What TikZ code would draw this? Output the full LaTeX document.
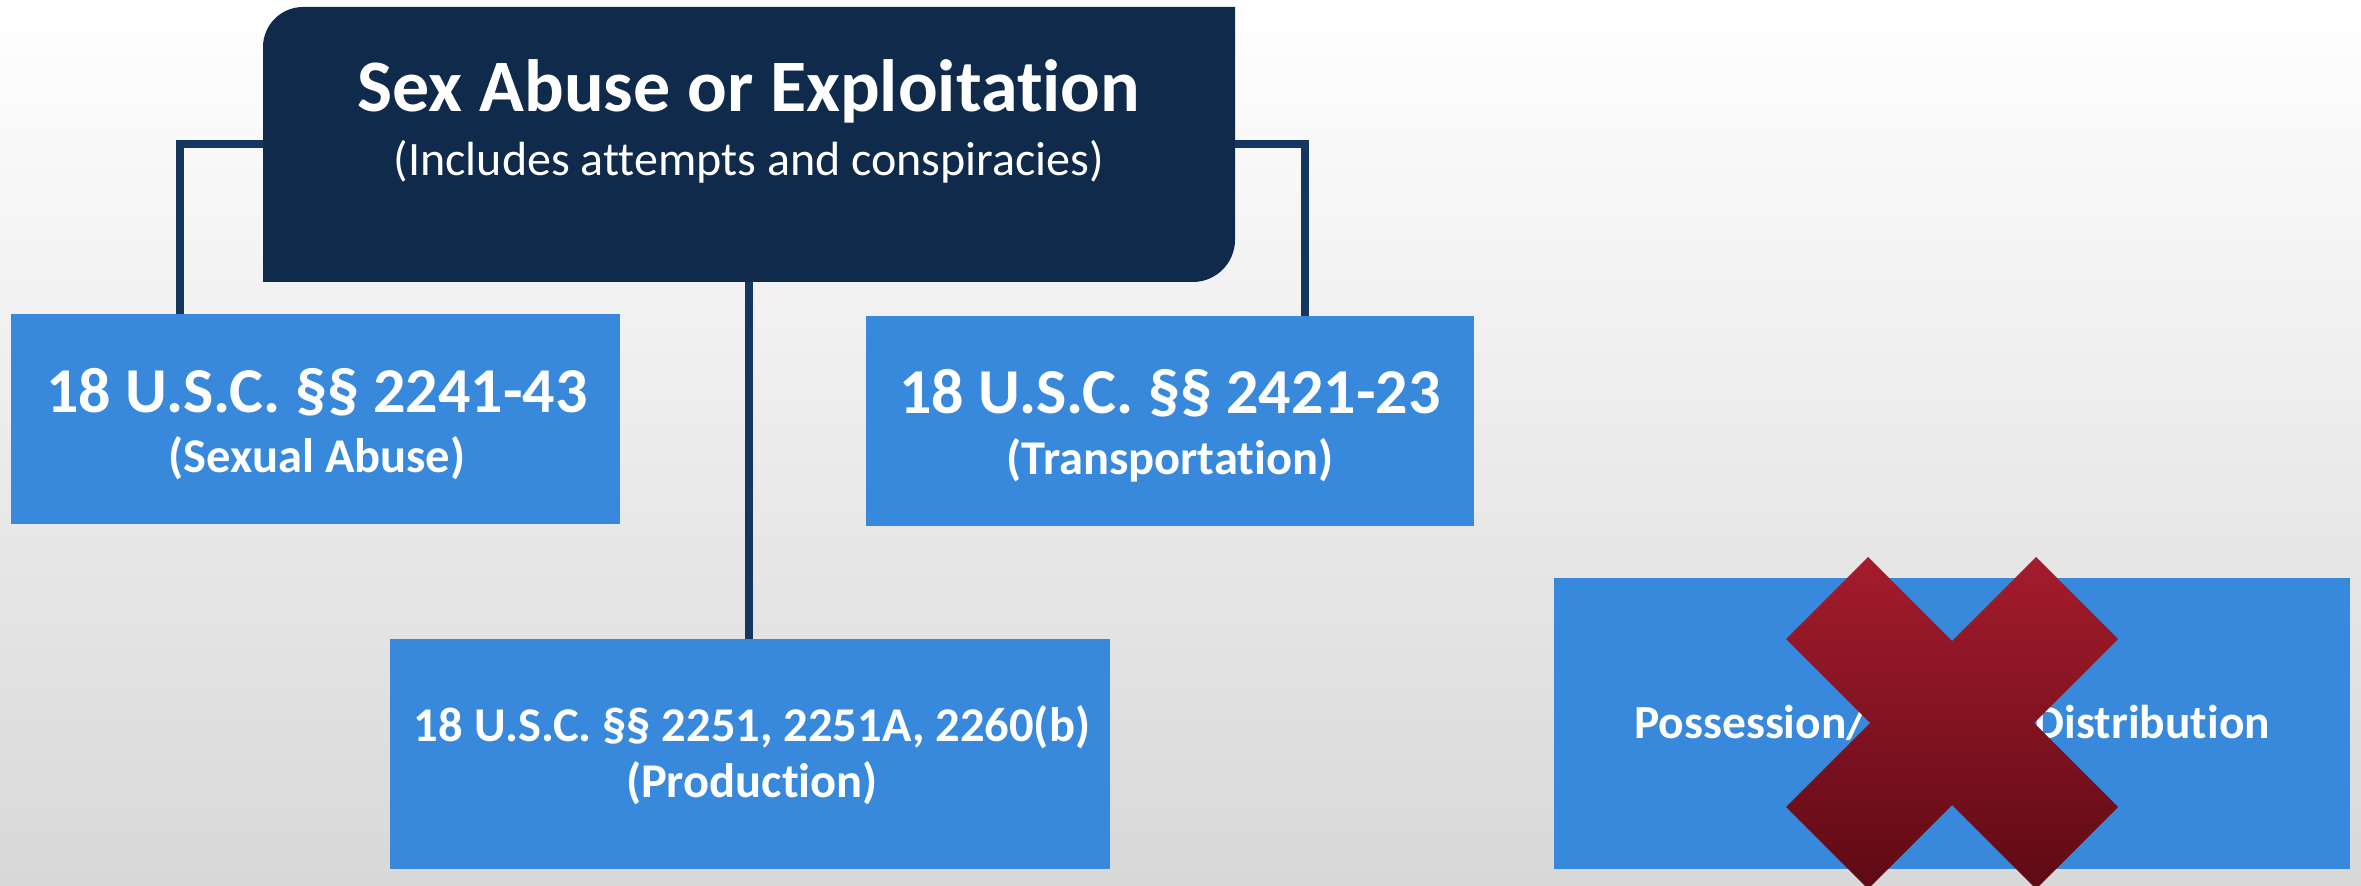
\documentclass[tikz,border=0pt]{standalone}
\usepackage{fontspec}
\setmainfont[Ligatures={NoCommon}]{Carlito}
\usetikzlibrary{calc}
\definecolor{navy}{HTML}{0F2A4A}
\definecolor{connc}{HTML}{15375F}
\definecolor{boxblue}{HTML}{3889DC}
\definecolor{xtop}{HTML}{A51C2D}
\definecolor{xbot}{HTML}{5E0A14}
\definecolor{bgbot}{HTML}{D8D8D8}
\begin{document}
\begin{tikzpicture}[x=1pt,y=1pt,
  boxshape/.style={fill=boxblue, draw=none, inner sep=0pt, outer sep=0pt},
  bigtxt/.style={font=\fontsize{64}{70}\selectfont\bfseries, text=white, anchor=base, inner sep=0pt},
  smalltxt/.style={font=\fontsize{48.5}{54}\selectfont\bfseries, text=white, anchor=base, inner sep=0pt},
  conn/.style={draw=connc, line width=8pt}]
\useasboundingbox (0,0) rectangle (2361,886);
\clip (0,0) rectangle (2361,886);
\shade[top color=white, bottom color=bgbot] (0,0) rectangle (2361,886);

% boxes
\node[draw=none, inner sep=0pt, outer sep=0pt, minimum width=972pt, minimum height=275pt] (top) at (749,741.5) {};
\node[boxshape, minimum width=609pt, minimum height=210pt] (lb) at (315.5,467) {};
\node[boxshape, minimum width=608pt, minimum height=210pt] (mr) at (1170,465) {};
\node[boxshape, minimum width=720pt, minimum height=230pt] (prod) at (750,132) {};
\node[boxshape, minimum width=796pt, minimum height=291pt] (poss) at (1952,162.5) {};

% connectors
\draw[conn] (top.west) -| ([xshift=169pt]lb.north west);
\draw[conn] (top.east) -| ([xshift=-169pt]mr.north east);
\draw[conn] (top.south) -- (top.south |- prod.north);

% top box fill (rounded top-left and bottom-right corners)
\fill[navy] (top.south west) -- ($(top.north west)+(0,-40)$)
  .. controls ($(top.north west)+(0,-18)$) and ($(top.north west)+(18,0)$) .. ($(top.north west)+(40,0)$)
  -- (top.north east) -- ($(top.south east)+(0,42)$)
  .. controls ($(top.south east)+(0,19)$) and ($(top.south east)+(-19,0)$) .. ($(top.south east)+(-42,0)$)
  -- cycle;

% texts
\node[anchor=base, inner sep=0pt, text=white, font=\fontsize{74}{80}\selectfont\bfseries] (title) at (749,774) {Sex Abuse or Exploitation};
\node[anchor=base, inner sep=0pt, text=white, font=\fontsize{48}{54}\selectfont] (subtitle) at (749,710) {(Includes attempts and conspiracies)};
\node[bigtxt] (lb1) at (317,473) {18 U.S.C. §§ 2241-43};
\node[smalltxt] (lb2) at (317,413) {(Sexual Abuse)};
\node[bigtxt] (mr1) at (1170,472) {18 U.S.C. §§ 2421-23};
\node[smalltxt] (mr2) at (1170,411) {(Transportation)};
\node[smalltxt] (prod1) at (752,144) {18 U.S.C. §§ 2251, 2251A, 2260(b)};
\node[smalltxt] (prod2) at (752,88) {(Production)};
\node[smalltxt, font=\fontsize{47.5}{52}\selectfont\bfseries] (poss1) at (1952,147) {Possession/Receipt/Distribution};

% red X
\shade[top color=xtop, bottom color=xbot]
  (1868,329) -- (1952,245) -- (2036,329) -- (2118,247) -- (2034,163) -- (2118,79)
  -- (2036,-3) -- (1952,81) -- (1868,-3) -- (1786,79) -- (1870,163) -- (1786,247) -- cycle;
\end{tikzpicture}
\end{document}
